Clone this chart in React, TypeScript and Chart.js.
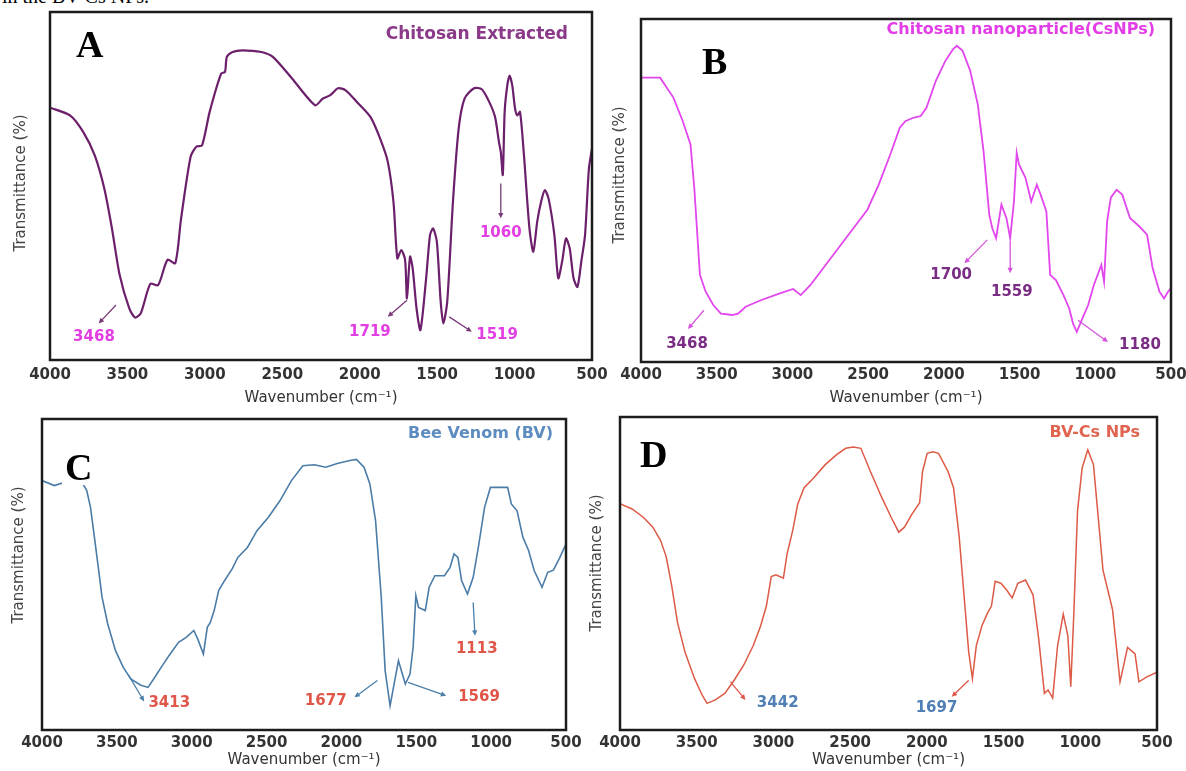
import React, { useEffect, useRef } from "react";
import { Chart, registerables } from "chart.js";

Chart.register(...registerables);

// ---------- shared axis ticks ----------
const xTickValues = [500, 1000, 1500, 2000, 2500, 3000, 3500, 4000];

// ---------- Panel A : Chitosan Extracted ----------
const aWave = [4000,3871,3785,3711,3649,3600,3550,3488,3451,3414,3352,3302,3241,3191,3154,3092,3055,3018,2969,2895,2870,2858,2821,2759,2635,2561,2437,2288,2239,2190,2140,2091,2017,1930,1868,1819,1782,1757,1732,1707,1695,1675,1658,1633,1608,1571,1546,1526,1502,1477,1460,1435,1398,1361,1323,1262,1212,1163,1126,1101,1089,1076,1064,1047,1032,1015,997,983,965,941,904,879,854,829,805,780,743,718,693,668,644,619,594,569,545,520,500];
const aTrans = [72.5,70.3,65.5,58.8,49.2,37.8,24.4,14.8,12.2,13.4,21.9,21.5,28.8,27.8,40.5,58.4,61.3,61.7,71.3,82.3,82.8,87.1,88.5,89,88.5,87.1,80.9,73.2,75.1,76.1,78.1,77.5,74.1,69.8,63.6,57,45.4,29.2,31.6,28.8,17.7,29.7,26.3,14.8,8.6,23.5,35.9,37.8,34,16.7,10.5,16.7,45.4,66.5,75.1,78.1,77.8,74.1,69.8,62.7,59.8,53.2,71.3,78.9,81.7,78.9,72.3,70.3,71.3,59.8,37.8,31.1,39.7,45.4,48.8,46.3,35.9,23.5,28.3,34.9,32.1,23.5,21,28.3,35.9,55,60.8];
const aNoteText = ["3468", "1719", "1519", "1060"];
const aNoteWave = [3716, 1934, 1113, 1089];
const aNoteTrans = [6.6, 8, 7.2, 36.4];
const aArrowWave = [[3574, 3686], [1695, 1819], [1422, 1276], [1089, 1089]];
const aArrowTrans = [[15.8, 10.5], [17.2, 12.4], [12.4, 8.1], [50.7, 40.7]];

// ---------- Panel B : Chitosan nanoparticle ----------
const bWave = [4000,3874,3786,3724,3673,3648,3628,3611,3573,3523,3472,3397,3359,3309,3209,3083,2995,2945,2882,2781,2681,2580,2505,2430,2354,2291,2254,2203,2153,2115,2053,1990,1939,1914,1876,1826,1776,1738,1700,1680,1655,1620,1587,1562,1537,1519,1504,1461,1423,1386,1361,1323,1298,1260,1210,1172,1147,1122,1085,1047,1010,960,942,922,897,859,822,771,709,658,621,576,546,520,500];
const bTrans = [82.9,82.9,77.1,70.2,63.4,50.7,37.1,25.4,20.5,16.6,14.1,13.7,14.1,16.1,18,20,21.3,19.5,22.4,28.3,34.1,40,44.4,51.7,60.5,68.3,70.2,71.2,71.7,74.1,82,87.8,91.2,92.2,90.7,84.9,75.1,61.5,42.9,39,36.1,45.9,42,36.1,46.8,61,57.6,53.7,46.8,51.7,48.8,43.9,25.4,23.9,19.5,15.6,11.2,8.8,12.7,16.6,22.4,28.3,23.4,41,48,50.2,48.8,42,39.5,37.1,27.3,20.5,18.5,20.5,21.5];
const bNoteText = ["3468", "1700", "1559", "1180"];
const bNoteWave = [3696, 1952, 1551, 705];
const bNoteTrans = [5.2, 25.4, 20.5, 5];
const bArrowWave = [[3585, 3690], [1713, 1864], [1562, 1562], [1114, 916]];
const bArrowTrans = [[15.1, 9.6], [35.6, 28.8], [35.1, 25.9], [12.2, 5.8]];

// ---------- Panel C : Bee Venom ----------
const cWave = [4000,3918,3854,3790,3739,3701,3676,3650,3624,3599,3561,3509,3458,3407,3343,3292,3254,3203,3152,3088,3037,2986,2960,2922,2896,2876,2850,2820,2781,2730,2692,2628,2564,2488,2411,2334,2258,2181,2105,2028,1951,1900,1849,1810,1772,1734,1708,1675,1644,1619,1593,1573,1542,1521,1503,1485,1440,1414,1376,1312,1274,1248,1222,1197,1158,1120,1082,1044,1005,954,890,865,827,788,750,712,660,622,584,541,500];
const cTrans = [80.2,78.6,79.6,81.2,80.2,77,71.6,62,52.3,42.7,34.1,25.5,20.2,16.4,14.5,13.7,16.4,20.2,23.9,28.2,29.8,32,29.3,24.4,33,34.6,38.4,44.8,48,51.8,55.5,58.7,64.1,68.4,73.7,80.2,85,85.3,84.5,85.7,86.6,87,84.5,79.1,67.3,42.7,19.1,7.8,15.9,22.3,18,14.8,18,26.6,43.2,39.4,38.4,45.9,49.6,49.6,52.3,56.6,55.5,48,43.7,49.1,59.8,71.6,78,78,78,72.7,70.5,62,57.7,51.2,45.9,50.7,51.4,55.5,59.8];
const cNoteText = ["3413", "1677", "1569", "1113"];
const cNoteWave = [3150, 2105, 1081, 1096];
const cNoteTrans = [8.7, 9.4, 10.6, 26];
const cArrowWave = [[3420, 3318], [1760, 1913], [1555, 1300], [1120, 1108]];
const cArrowTrans = [[17.5, 9.2], [15.9, 10.5], [15.3, 11], [41, 30.3]];

// ---------- Panel D : BV-Cs NPs ----------
const dWave = [4000,3921,3847,3786,3736,3699,3662,3625,3576,3514,3465,3433,3379,3317,3256,3194,3132,3083,3046,3014,2984,2935,2911,2874,2842,2800,2738,2664,2590,2529,2479,2430,2368,2294,2232,2183,2146,2097,2047,2028,1998,1961,1924,1862,1826,1789,1752,1727,1703,1678,1641,1604,1579,1555,1518,1481,1444,1407,1357,1308,1271,1234,1210,1180,1148,1111,1081,1062,1042,1018,988,951,914,852,790,741,717,692,643,618,569,500];
const dTrans = [72.3,70.6,67.9,64.8,60.6,55.4,45.8,34.3,24.8,16.4,11.2,8.5,9.6,11.7,15.9,20.7,26.9,33.3,39.6,49,49.6,48.5,56.3,63.8,72.1,77.4,80.5,84.7,87.9,90,90.4,90,82.6,74.3,67.9,63.2,64.8,69,72.6,82.6,88.4,88.9,88.4,82.6,77.4,61.6,39.6,24.8,16.4,26.9,33.3,37.4,39.6,47.5,46.9,44.8,42.2,46.9,47.9,43.2,29.1,11.7,12.8,10.2,26.9,37,30.1,13.8,37.4,70,83.7,89.5,84.8,51.1,38.5,15.4,20.7,26.4,24.3,15.4,16.9,18.5];
const dNoteText = ["3442", "1697"];
const dNoteWave = [2972, 1937];
const dNoteTrans = [8.5, 6.9];
const dArrowWave = [[3280, 3182], [1727, 1838]];
const dArrowTrans = [[15.4, 9.6], [15.9, 10.6]];

// ---------- layout / style ----------
type Rect = { left: number; top: number; width: number; height: number };
type Frame = { left: number; top: number; right: number; bottom: number };
type Panel = {
  key: string;
  canvas: Rect;
  frame: Frame;
  wave: number[];
  trans: number[];
  lineColor: string;
  lineWidth: number;
  tension: number;
  noteText: string[];
  noteWave: number[];
  noteTrans: number[];
  arrowWave: number[][];
  arrowTrans: number[][];
  noteColor: string;
  arrowColor: string;
  title: string;
  titleColor: string;
  titleRight: number;
  titleY: number;
  titleSize: number;
  letter: string;
  letterX: number;
  letterBase: number;
  letterBox?: Frame;
  yTitleX: number;
  yTitleY: number;
  tickPad: number;
  xTitlePad: number;
};

const SANS = '"DejaVu Sans", "Liberation Sans", Arial, sans-serif';
const SERIF = '"Liberation Serif", "Times New Roman", serif';

const panels: Panel[] = [
  {
    key: "A",
    canvas: { left: 0, top: 0, width: 615, height: 410 },
    frame: { left: 50, top: 12, right: 592, bottom: 360 },
    wave: aWave, trans: aTrans,
    lineColor: "#6c1f6a", lineWidth: 2.2, tension: 0.25,
    noteText: aNoteText, noteWave: aNoteWave, noteTrans: aNoteTrans,
    arrowWave: aArrowWave, arrowTrans: aArrowTrans,
    noteColor: "#e23fe2", arrowColor: "#7a3a78",
    title: "Chitosan Extracted", titleColor: "#8a3a88", titleRight: 568, titleY: 35, titleSize: 17,
    letter: "A", letterX: 76, letterBase: 57,
    yTitleX: 21, yTitleY: 183, tickPad: 6, xTitlePad: 3,
  },
  {
    key: "B",
    canvas: { left: 598, top: 0, width: 588, height: 410 },
    frame: { left: 641, top: 19, right: 1171, bottom: 362 },
    wave: bWave, trans: bTrans,
    lineColor: "#e246ec", lineWidth: 1.8, tension: 0,
    noteText: bNoteText, noteWave: bNoteWave, noteTrans: bNoteTrans,
    arrowWave: bArrowWave, arrowTrans: bArrowTrans,
    noteColor: "#7b2c84", arrowColor: "#d552dc",
    title: "Chitosan nanoparticle(CsNPs)", titleColor: "#e23de6", titleRight: 1155, titleY: 30, titleSize: 16,
    letter: "B", letterX: 702, letterBase: 74,
    yTitleX: 620, yTitleY: 175, tickPad: 4, xTitlePad: 3,
  },
  {
    key: "C",
    canvas: { left: 0, top: 405, width: 590, height: 366 },
    frame: { left: 42, top: 419, right: 566, bottom: 730 },
    wave: cWave, trans: cTrans,
    lineColor: "#4b7ca7", lineWidth: 1.6, tension: 0,
    noteText: cNoteText, noteWave: cNoteWave, noteTrans: cNoteTrans,
    arrowWave: cArrowWave, arrowTrans: cArrowTrans,
    noteColor: "#e0574a", arrowColor: "#4a80aa",
    title: "Bee Venom (BV)", titleColor: "#5d8cc0", titleRight: 553, titleY: 434, titleSize: 16,
    letter: "C", letterX: 65, letterBase: 480,
    letterBox: { left: 62, top: 447, right: 96, bottom: 485 },
    yTitleX: 19, yTitleY: 555, tickPad: 4, xTitlePad: 2,
  },
  {
    key: "D",
    canvas: { left: 578, top: 405, width: 608, height: 366 },
    frame: { left: 620, top: 417, right: 1157, bottom: 730 },
    wave: dWave, trans: dTrans,
    lineColor: "#dd5a46", lineWidth: 1.5, tension: 0,
    noteText: dNoteText, noteWave: dNoteWave, noteTrans: dNoteTrans,
    arrowWave: dArrowWave, arrowTrans: dArrowTrans,
    noteColor: "#4f7fb5", arrowColor: "#e0584a",
    title: "BV-Cs NPs", titleColor: "#e0644f", titleRight: 1140, titleY: 433, titleSize: 16,
    letter: "D", letterX: 640, letterBase: 467,
    yTitleX: 597, yTitleY: 563, tickPad: 4, xTitlePad: 2,
  },
];

function makeDecor(p: Panel) {
  return {
    id: "decor" + p.key,
    afterDraw(chart: any) {
      const ctx: CanvasRenderingContext2D = chart.ctx;
      const { left, top, right, bottom } = chart.chartArea;
      const xs = chart.scales.x;
      const ys = chart.scales.y;
      const ox = p.canvas.left;
      const oy = p.canvas.top;
      ctx.save();

      // frame
      ctx.strokeStyle = "#1c1c1c";
      ctx.lineWidth = 2.5;
      ctx.strokeRect(left, top, right - left, bottom - top);

      // arrows
      ctx.strokeStyle = p.arrowColor;
      ctx.fillStyle = p.arrowColor;
      ctx.lineWidth = 1.3;
      for (let i = 0; i < p.arrowWave.length; i++) {
        const x1 = xs.getPixelForValue(p.arrowWave[i][0]);
        const x2 = xs.getPixelForValue(p.arrowWave[i][1]);
        const y1 = ys.getPixelForValue(p.arrowTrans[i][0]);
        const y2 = ys.getPixelForValue(p.arrowTrans[i][1]);
        const ang = Math.atan2(y2 - y1, x2 - x1);
        const hl = 6;
        ctx.beginPath();
        ctx.moveTo(x1, y1);
        ctx.lineTo(x2 - Math.cos(ang) * hl * 0.6, y2 - Math.sin(ang) * hl * 0.6);
        ctx.stroke();
        ctx.beginPath();
        ctx.moveTo(x2, y2);
        ctx.lineTo(x2 - hl * Math.cos(ang - 0.45), y2 - hl * Math.sin(ang - 0.45));
        ctx.lineTo(x2 - hl * Math.cos(ang + 0.45), y2 - hl * Math.sin(ang + 0.45));
        ctx.closePath();
        ctx.fill();
      }

      // peak labels
      ctx.fillStyle = p.noteColor;
      ctx.font = `bold 15px ${SANS}`;
      ctx.textAlign = "center";
      ctx.textBaseline = "middle";
      for (let i = 0; i < p.noteText.length; i++) {
        ctx.fillText(
          p.noteText[i],
          xs.getPixelForValue(p.noteWave[i]),
          ys.getPixelForValue(p.noteTrans[i])
        );
      }

      // panel title
      ctx.fillStyle = p.titleColor;
      ctx.font = `bold ${p.titleSize}px ${SANS}`;
      ctx.textAlign = "right";
      ctx.textBaseline = "middle";
      ctx.fillText(p.title, p.titleRight - ox, p.titleY - oy);

      // panel letter
      if (p.letterBox) {
        ctx.fillStyle = "#ffffff";
        ctx.fillRect(
          p.letterBox.left - ox,
          p.letterBox.top - oy,
          p.letterBox.right - p.letterBox.left,
          p.letterBox.bottom - p.letterBox.top
        );
      }
      ctx.fillStyle = "#000000";
      ctx.font = `bold 38px ${SERIF}`;
      ctx.textAlign = "left";
      ctx.textBaseline = "alphabetic";
      ctx.fillText(p.letter, p.letterX - ox, p.letterBase - oy);

      // y-axis title
      ctx.translate(p.yTitleX - ox, p.yTitleY - oy);
      ctx.rotate(-Math.PI / 2);
      ctx.fillStyle = "#444444";
      ctx.font = `15px ${SANS}`;
      ctx.textAlign = "center";
      ctx.textBaseline = "middle";
      ctx.fillText("Transmittance (%)", 0, 0);

      ctx.restore();
    },
  };
}

function PanelChart({ p }: { p: Panel }) {
  const ref = useRef<HTMLCanvasElement | null>(null);
  useEffect(() => {
    if (!ref.current) return;
    const points = p.wave.map((w, i) => ({ x: w, y: p.trans[i] }));
    const chart = new Chart(ref.current, {
      type: "line",
      data: {
        datasets: [
          {
            data: points,
            borderColor: p.lineColor,
            borderWidth: p.lineWidth,
            pointRadius: 0,
            tension: p.tension,
            fill: false,
          },
        ],
      },
      options: {
        animation: false,
        responsive: false,
        devicePixelRatio: 1,
        events: [],
        layout: {
          padding: {
            top: p.frame.top - p.canvas.top,
            right: p.canvas.left + p.canvas.width - p.frame.right,
            left: 0,
            bottom: 0,
          },
        },
        plugins: {
          legend: { display: false },
          tooltip: { enabled: false },
        },
        scales: {
          x: {
            type: "linear",
            min: 500,
            max: 4000,
            reverse: true,
            grid: { display: false, drawTicks: false, tickLength: 0 },
            border: { display: false },
            afterBuildTicks: (s: any) => {
              s.ticks = xTickValues.map((v) => ({ value: v }));
            },
            afterFit: (s: any) => {
              s.height = p.canvas.top + p.canvas.height - p.frame.bottom;
            },
            ticks: {
              autoSkip: false,
              maxRotation: 0,
              minRotation: 0,
              padding: p.tickPad,
              color: "#333333",
              font: { family: SANS, size: 15, weight: "bold" },
              callback: (v: any) => String(v),
            },
            title: {
              display: true,
              text: "Wavenumber (cm⁻¹)",
              color: "#333333",
              font: { family: SANS, size: 15 },
              padding: { top: 0, bottom: p.xTitlePad },
            },
          },
          y: {
            min: 0,
            max: 100,
            grid: { display: false, drawTicks: false, tickLength: 0 },
            border: { display: false },
            ticks: { display: false },
            afterFit: (s: any) => {
              s.width = p.frame.left - p.canvas.left;
            },
          },
        },
      } as any,
      plugins: [makeDecor(p)],
    });
    return () => chart.destroy();
  }, [p]);
  return (
    <canvas
      ref={ref}
      width={p.canvas.width}
      height={p.canvas.height}
      style={{
        position: "absolute",
        left: p.canvas.left,
        top: p.canvas.top,
        width: p.canvas.width,
        height: p.canvas.height,
        display: "block",
      }}
    />
  );
}

export default function App() {
  return (
    <div
      style={{
        position: "absolute",
        left: 0,
        top: 0,
        width: 1186,
        height: 771,
        background: "#ffffff",
        overflow: "hidden",
      }}
    >
      <div
        style={{
          position: "absolute",
          left: 2,
          top: -14,
          fontFamily: SERIF,
          fontSize: 20,
          lineHeight: "20px",
          whiteSpace: "nowrap",
          color: "#000",
        }}
      >
        in the BV-Cs NPs.
      </div>
      {panels.map((p) => (
        <PanelChart key={p.key} p={p} />
      ))}
    </div>
  );
}
